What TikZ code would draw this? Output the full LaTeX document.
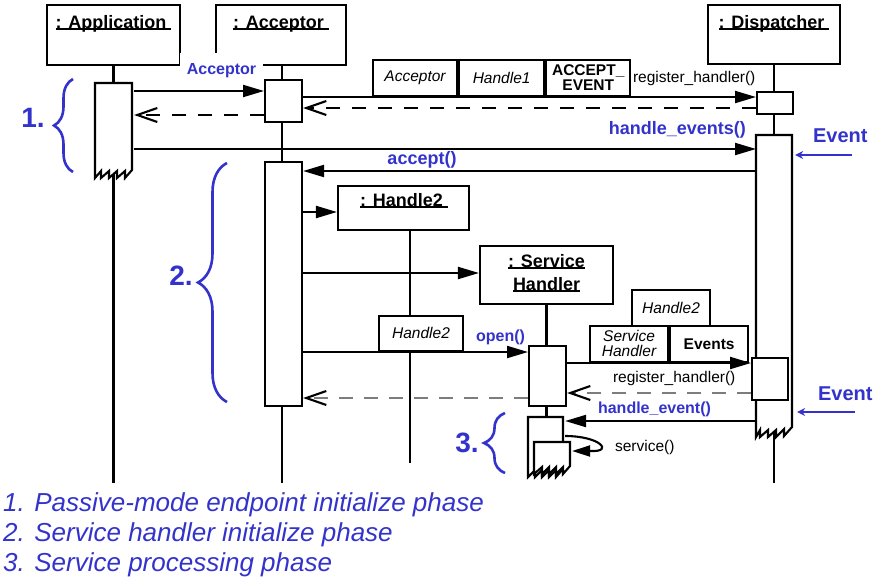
\documentclass[tikz,border=0pt]{standalone}
\usepackage{fontspec}
\setmainfont{Liberation Sans}
\usetikzlibrary{arrows.meta,decorations.pathreplacing,positioning}
\definecolor{phaseblue}{RGB}{51,51,204}
\definecolor{retgray}{RGB}{125,125,125}

\newsavebox{\ulbox}
\newcommand{\ulin}[1]{\sbox\ulbox{#1}\rlap{\rule[-2pt]{\wd\ulbox}{1.9pt}}\usebox\ulbox}

\begin{document}
\begin{tikzpicture}[x=1pt,y=-1pt,line width=2.1pt,
  objbox/.style={draw, fill=white, inner sep=0pt, minimum width=133pt, minimum height=60pt},
  objtitle/.style={inner sep=0pt, anchor=base, font=\fontsize{18}{21}\selectfont\bfseries},
  act/.style={draw, fill=white, inner sep=0pt, minimum width=37pt, anchor=north west},
  actspan/.style={inner sep=0pt, minimum width=37pt, anchor=north west},
  cell/.style={draw, fill=white, inner sep=0pt, minimum height=36pt, anchor=south west, align=center},
  itxt/.style={font=\fontsize{15.5}{15}\selectfont\itshape},
  btxt/.style={font=\fontsize{15.5}{15}\selectfont\bfseries},
  ptxt/.style={inner sep=0pt, font=\fontsize{15.5}{17}\selectfont},
  blbig/.style={inner sep=0pt, text=phaseblue, font=\fontsize{18}{20}\selectfont\bfseries},
  blsmall/.style={inner sep=0pt, text=phaseblue, font=\fontsize{16}{18}\selectfont\bfseries},
  evlbl/.style={inner sep=0pt, text=phaseblue, font=\fontsize{20}{22}\selectfont\bfseries},
  bnum/.style={inner sep=0pt, text=phaseblue, font=\fontsize{28}{30}\selectfont\bfseries},
  legend/.style={inner sep=0pt, anchor=base west, text=phaseblue, font=\fontsize{26}{30}\selectfont\itshape},
  msg/.style={-{Triangle[length=21pt,width=12pt]}},
  ret/.style={dash pattern=on 14pt off 12pt, -{Straight Barb[length=20pt,width=14pt]}},
  retg/.style={retgray, dash pattern=on 14pt off 11pt, -{Straight Barb[length=20pt,width=14pt,color=black]}},
  evt/.style={phaseblue, line width=1.6pt, -{Stealth[length=8pt,width=8pt]}},
  phasebrace/.style={phaseblue, line width=2.6pt, decorate, decoration={brace, amplitude=#1}}]

\useasboundingbox (0,0) rectangle (874,579);

% objects
\node[objbox] (app) at (113.5,35) {};
\node[objbox, minimum width=130pt] (acc) at (281,35) {};
\node[objbox, minimum width=132pt, minimum height=59pt] (disp) at (774,34.5) {};
\node[objtitle] (appT) at (113.5,28) {\ulin{: Application }};
\node[objtitle] (accT) at (281,28) {\ulin{: Acceptor }};
\node[objtitle] (dispT) at (774,28) {\ulin{: Dispatcher }};

% created objects
\node[objbox, minimum width=131pt, minimum height=44pt] (h2) at (403.5,208) {};
\node[objtitle] (h2T) at (404,206) {\ulin{: Handle2 }};
\node[objbox, minimum height=58pt] (sh) at (546.5,275) {};
\node[objtitle] (shT1) at (546.5,267) {\ulin{: Service}};
\node[objtitle] (shT2) at (546.5,290) {\ulin{Handler}};

% lifelines
\draw (app.south) -- (app.south |- 0,483);
\draw (acc.south -| 282,0) -- (282,483);
\draw (disp.south) -- (disp.south |- 0,483);
\draw[line width=1.6pt] (h2.south -| 410,0) -- (410,463);
\draw (sh.south) -- (sh.south |- 0,417);

% creation label over the box corners
\node[blsmall, fill=white, text height=21pt, text depth=9pt, inner xsep=7pt, anchor=base] (newAcc) at (221.5,74) {Acceptor};

% activations
\node[actspan, minimum height=87pt] (appA) at (95,83) {};
\draw[fill=white] (95,178) -- (95,83) -- (132,83) -- (132,170) -- (125,178) -- (125,171) -- (117,178) -- (117,171)
  -- (109,178) -- (109,171) -- (101,178) -- (101,171) -- cycle;
\node[act, minimum height=42pt] (accA1) at (264,79) {};
\node[act, minimum width=36pt, minimum height=22pt] (dispA1) at (756,91) {};
\node[act, minimum height=244pt] (accA2) at (264,161) {};
\node[actspan, minimum width=36pt, minimum height=292pt] (dispA2) at (756,135) {};
\draw[fill=white] (756,437) -- (756,135) -- (792,135) -- (792,427) -- (784,436) -- (784,429) -- (776,437) -- (776,430)
  -- (768,437) -- (768,430) -- (760,437) -- (760,430) -- cycle;
\node[act, minimum width=36pt, minimum height=42pt] (dispA3) at (751,357) {};
\node[act, minimum height=60pt] (shA1) at (528,345) {};
\node[actspan, minimum width=35pt, minimum height=53pt] (shA2) at (528,417) {};
\draw[fill=white] (528,477) -- (528,417) -- (563,417) -- (563,469) -- (556,477) -- (556,470) -- (549,477) -- (549,470)
  -- (542,477) -- (542,470) -- (535,477) -- (535,470) -- cycle;
\node[actspan, minimum width=36pt, minimum height=24pt] (shA3) at (534,442) {};
\draw[fill=white] (534,474) -- (534,442) -- (570,442) -- (570,466) -- (563,474) -- (563,467) -- (556,474) -- (556,467)
  -- (549,474) -- (549,467) -- (542,474) -- (542,467) -- cycle;

% parameter cells
\node[cell, itxt, minimum width=84pt] (cellA) at (372,97) {Acceptor};
\node[cell, itxt, minimum width=85pt] (cellB) at (cellA.south east) {Handle1};
\node[cell, btxt, minimum width=84pt] (cellC) at (cellB.south east) {ACCEPT\_\\EVENT};
\node[cell, itxt, minimum width=84pt, minimum height=35pt] (h2par) at (378,352) {Handle2};
\node[cell, itxt, minimum width=78pt] (shpar) at (589,363) {Service\\Handler};
\node[cell, btxt, minimum width=78pt] (evpar) at (shpar.south east) {Events};
\node[cell, itxt, minimum width=78pt] (hdpar) at (631,327) {Handle2};

% messages
\draw[msg] (appA.east |- 0,91) -- (accA1.west |- 0,91);
\draw[ret] (accA1.west |- 0,115) -- (appA.east |- 0,115);
\draw[msg] (accA1.east |- 0,97) -- (dispA1.west |- 0,97);
\draw[ret] (dispA1.west |- 0,108) -- (accA1.east |- 0,108);
\draw[msg] (appA.east |- 0,149) -- (dispA2.west |- 0,149);
\draw[msg] (dispA2.west |- 0,171) -- (accA2.east |- 0,171);
\draw[msg] (accA2.east |- 0,212) -- (h2.west |- 0,212);
\draw[msg] (accA2.east |- 0,273) -- (sh.west |- 0,273);
\draw[msg] (accA2.east |- 0,352) -- (shA1.west |- 0,352);
\draw[msg] (shA1.east |- 0,363) -- (dispA3.west |- 0,363);
\draw[retg] (dispA3.west |- 0,393) -- (shA1.east |- 0,393);
\draw[retg] (shA1.west |- 0,398) -- (accA2.east |- 0,398);
\draw[msg] (dispA2.west |- 0,421) -- (shA2.east |- 0,421);
\draw[-{Triangle[length=18pt,width=11pt]}] (shA2.east |- 0,436) .. controls (600,436) and (614,452) .. (591,451) -- (shA3.east |- 0,451);

% message labels
\node[ptxt, anchor=base west] (reg1) at (632,82) {register\_handler()};
\node[ptxt, anchor=base west] (reg2) at (612,382) {register\_handler()};
\node[ptxt, anchor=base west] (svc) at (614,451) {service()};
\node[blbig, anchor=base east] (hevl) at (747,134) {handle\_events()};
\node[blbig, anchor=base] (accl) at (422,164) {accept()};
\node[blsmall, anchor=base east] (openl) at (526,341) {open()};
\node[blsmall, anchor=base west] (hel) at (597,413) {handle\_event()};

% events
\node[evlbl, anchor=base west] (ev1) at (812,142) {Event};
\node[evlbl, anchor=base west] (ev2) at (817,400) {Event};
\coordinate (ev1src) at (852,155);
\coordinate (ev2src) at (855,412);
\draw[evt, shorten >=1pt] (ev1src) -- (dispA2.east |- ev1src);
\draw[evt, shorten >=3pt] (ev2src) -- (dispA2.east |- ev2src);

% phases
\draw[phasebrace=19pt] (73,172) -- (73,79);
\node[bnum] (ph1) at (33,118) {1.};
\draw[phasebrace=29pt] (227,402) -- (227,163);
\node[bnum] (ph2) at (181,276) {2.};
\draw[phasebrace=21pt] (505,473) -- (505,413);
\node[bnum] (ph3) at (467,443) {3.};

% legend
\node[legend] (leg1) at (2,511) {1. Passive-mode endpoint initialize phase};
\node[legend] (leg2) at (2,541) {2. Service handler initialize phase};
\node[legend] (leg3) at (2,571) {3. Service processing phase};

\end{tikzpicture}
\end{document}
